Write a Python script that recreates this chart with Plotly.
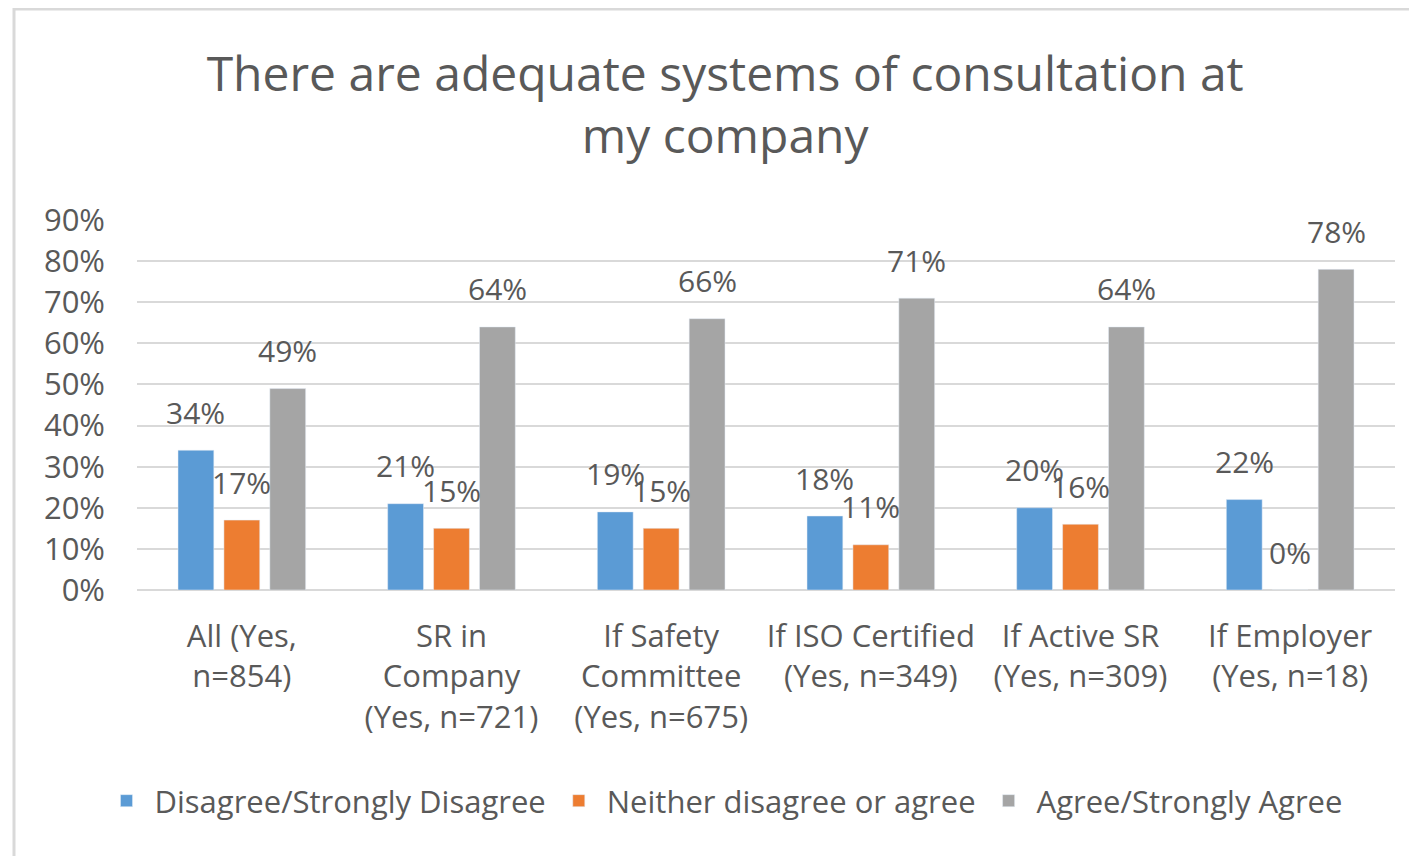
import plotly.graph_objects as go

categorias = ["All (Yes,<br>n=854)", "SR in<br>Company<br>(Yes, n=721)", "If Safety<br>Committee<br>(Yes, n=675)",
              "If ISO Certified<br>(Yes, n=349)", "If Active SR<br>(Yes, n=309)", "If Employer<br>(Yes, n=18)"]
discorda = [0.34, 0.21, 0.19, 0.18, 0.20, 0.22]
neutro = [0.17, 0.15, 0.15, 0.11, 0.16, 0.00]
concorda = [0.49, 0.64, 0.66, 0.71, 0.64, 0.78]
nomes = ["Disagree/Strongly Disagree", "Neither disagree or agree", "Agree/Strongly Agree"]
cores = ["#5b9bd5", "#ed7d31", "#a5a5a5"]

fonte = "Open Sans"
cinza_texto = "#595959"
bargap = 0.343

# a página tem margem de 8px no body, então a figura é 8px menor
W, H = 1409, 848
ML, MT, MR, MB = 129, 212, 22, 266
altura_plot = H - MT - MB
largura_plot = W - ML - MR

fig = go.Figure()
series = [discorda, neutro, concorda]
for s, nome, cor in zip(series, nomes, cores):
    fig.add_trace(go.Bar(x=list(range(len(categorias))), y=s, name=nome, marker_color=cor))

# rótulos de dados acima das barras (estilo Excel)
slot = (1 - bargap) / 3
for j, s in enumerate(series):
    for i, v in enumerate(s):
        fig.add_annotation(x=i + (j - 1) * slot, y=v, xref="x", yref="y",
                           text=f"{round(v * 100)}%", showarrow=False, yshift=38,
                           font=dict(family=fonte, size=30, color=cinza_texto))

fig.update_layout(
    width=W, height=H,
    paper_bgcolor="white", plot_bgcolor="white",
    barmode="group", bargap=bargap, bargroupgap=0.22,
    margin=dict(l=ML, r=MR, t=MT, b=MB, autoexpand=False),
    title=dict(text="There are adequate systems of consultation at<br>my company",
               x=0.509, xanchor="center", yref="container", y=1 - 83 / H, yanchor="middle",
               font=dict(family=fonte, size=48, color=cinza_texto)),
    legend=dict(orientation="h", x=0.5 - 43 / largura_plot, xanchor="center",
                y=(582 - 793) / altura_plot, yanchor="middle",
                font=dict(family=fonte, size=31, color=cinza_texto),
                itemwidth=46, traceorder="normal"),
    showlegend=True,
)
fig.update_xaxes(tickvals=list(range(len(categorias))), ticktext=categorias,
                 range=[-0.5, len(categorias) - 0.5],
                 tickfont=dict(family=fonte, size=31, color=cinza_texto),
                 showgrid=False, showline=False, ticks="", zeroline=False, ticklabelstandoff=25)
fig.update_yaxes(range=[0, 0.9001], dtick=0.1, tickformat=".0%",
                 tickfont=dict(family=fonte, size=31, color=cinza_texto),
                 gridcolor="#d9d9d9", gridwidth=2, zeroline=True, zerolinecolor="#d9d9d9",
                 zerolinewidth=2, ticks="", ticklabelstandoff=31)

# moldura do gráfico
fig.add_shape(type="rect", xref="paper", yref="paper",
              x0=(6 - ML) / largura_plot, x1=(W + 20 - ML) / largura_plot,
              y0=(altura_plot - (H + 20 - MT)) / altura_plot, y1=(H - MB - 1) / altura_plot,
              line=dict(color="#d9d9d9", width=3), layer="below")

fig.write_html("out.html")
